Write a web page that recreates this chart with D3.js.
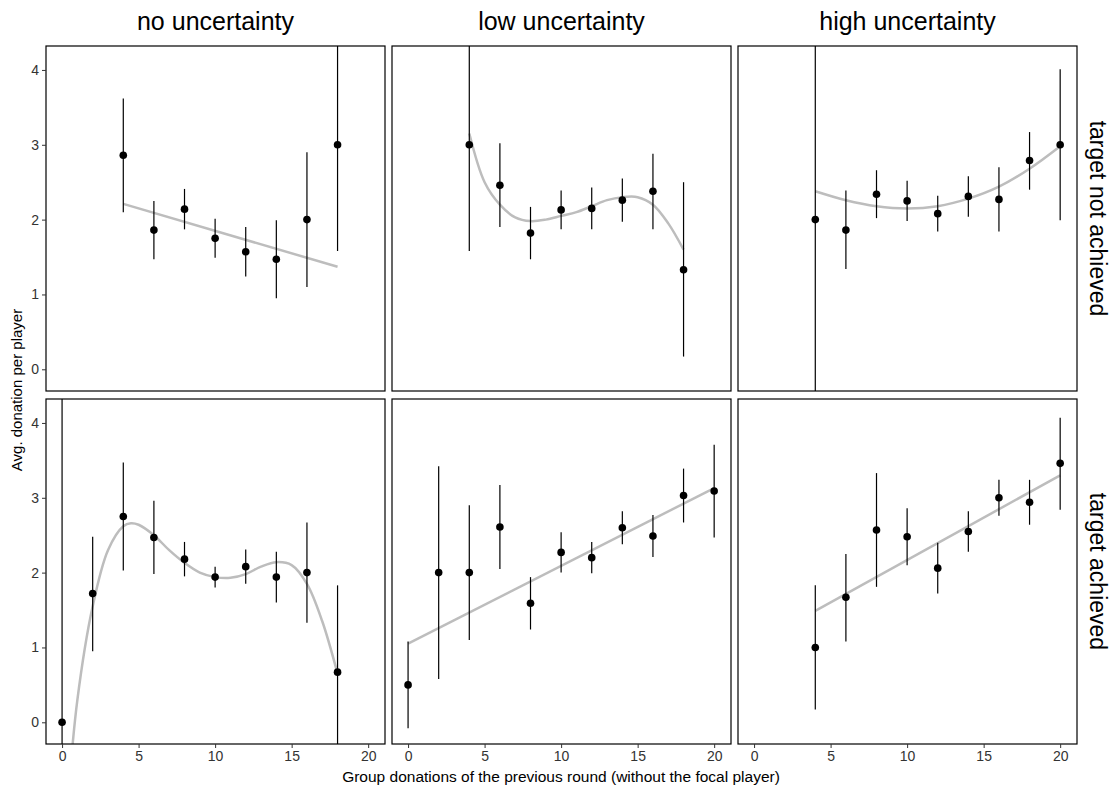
<!DOCTYPE html>
<html><head><meta charset="utf-8">
<script src="https://cdn.jsdelivr.net/npm/d3@7"></script>
<style>body{margin:0;background:#fff}text{font-family:"Liberation Sans",Arial,sans-serif}</style>
</head><body><svg id="c"></svg>
<script>
const columns = ["no uncertainty", "low uncertainty", "high uncertainty"];
const rows = ["target not achieved", "target achieved"];
const xTicks = [0, 5, 10, 15, 20];
const yTicks = [0, 1, 2, 3, 4];

// points: [x, mean, low, high], panels in row order
const points = [
  [[4,2.86,2.1,3.62],[6,1.86,1.47,2.25],[8,2.14,1.87,2.41],[10,1.75,1.49,2.01],[12,1.57,1.24,1.9],[14,1.47,0.95,1.99],[16,2.0,1.1,2.9],[18,3.0,1.58,6]],
  [[4,3.0,1.58,6],[6,2.46,1.9,3.02],[8,1.82,1.47,2.17],[10,2.13,1.87,2.39],[12,2.15,1.87,2.43],[14,2.26,1.97,2.55],[16,2.38,1.87,2.88],[18,1.33,0.17,2.5]],
  [[4,2.0,-2,6],[6,1.86,1.34,2.39],[8,2.34,2.02,2.66],[10,2.25,1.98,2.52],[12,2.08,1.84,2.32],[14,2.31,2.04,2.58],[16,2.27,1.84,2.7],[18,2.79,2.4,3.17],[20,3.0,1.99,4.01]],
  [[0,0,-2,6],[2,1.72,0.95,2.48],[4,2.75,2.03,3.47],[6,2.47,1.98,2.96],[8,2.18,1.95,2.41],[10,1.94,1.8,2.08],[12,2.08,1.85,2.31],[14,1.94,1.6,2.28],[16,2.0,1.33,2.67],[18,0.67,-0.5,1.83]],
  [[0,0.5,-0.08,1.08],[2,2.0,0.58,3.42],[4,2.0,1.1,2.9],[6,2.61,2.05,3.17],[8,1.59,1.24,1.94],[10,2.27,2.0,2.54],[12,2.2,1.99,2.41],[14,2.6,2.38,2.82],[16,2.49,2.21,2.77],[18,3.03,2.67,3.39],[20,3.09,2.47,3.71]],
  [[4,1.0,0.17,1.83],[6,1.67,1.08,2.25],[8,2.57,1.81,3.33],[10,2.48,2.1,2.86],[12,2.06,1.72,2.4],[14,2.55,2.28,2.82],[16,3.0,2.76,3.24],[18,2.94,2.64,3.24],[20,3.46,2.84,4.07]]
];

// fitted curves: [x, y]
const fits = [
  [[4,2.21],[18,1.37]],
  [[4,3.15],[5,2.5],[6,2.2],[7,2.03],[8,1.98],[9,2.0],[10,2.05],[11,2.1],[12,2.18],[13,2.26],[14,2.3],[15,2.3],[16,2.2],[17,1.95],[18,1.6]],
  [[4,2.38],[6,2.26],[8,2.18],[10,2.15],[12,2.18],[14,2.28],[16,2.44],[18,2.68],[20,2.98]],
  [[0.4,-1],[1,0.3],[2,1.55],[3,2.3],[4,2.62],[4.5,2.66],[5,2.64],[6,2.5],[7,2.3],[8,2.13],[9,2.0],[10,1.94],[11,1.93],[12,1.98],[13,2.08],[14,2.14],[15,2.1],[16,1.85],[17,1.35],[18,0.65]],
  [[0,1.05],[20,3.13]],
  [[4,1.49],[20,3.3]]
];

const W = 1117, H = 790;
const svg = d3.select("#c").attr("width", W).attr("height", H);
const colX = [46, 392, 738], pw = 339;
const rowY = [46, 399], ph = 345;

const x = d3.scaleLinear().domain([-1.05, 21.1]).range([0, pw]);
const y = d3.scaleLinear().domain([-0.29, 4.32]).range([ph, 0]);
const line = d3.line().x(d => x(d[0])).y(d => y(d[1])).curve(d3.curveCatmullRom);

svg.append("clipPath").attr("id", "clip").append("rect").attr("width", pw).attr("height", ph);

rows.forEach((r, ri) => {
  columns.forEach((c, ci) => {
    const k = ri * 3 + ci;
    const g = svg.append("g").attr("transform", `translate(${colX[ci]},${rowY[ri]})`);
    const inner = g.append("g").attr("clip-path", "url(#clip)");
    inner.append("path").datum(fits[k]).attr("d", line)
      .attr("fill", "none").attr("stroke", "#bdbdbd").attr("stroke-width", 2.5);
    inner.selectAll("line.e").data(points[k]).enter().append("line")
      .attr("x1", d => x(d[0])).attr("x2", d => x(d[0]))
      .attr("y1", d => y(d[2])).attr("y2", d => y(d[3]))
      .attr("stroke", "#000").attr("stroke-width", 1.2);
    inner.selectAll("circle").data(points[k]).enter().append("circle")
      .attr("cx", d => x(d[0])).attr("cy", d => y(d[1])).attr("r", 3.8).attr("fill", "#000");
    g.append("rect").attr("width", pw).attr("height", ph)
      .attr("fill", "none").attr("stroke", "#000").attr("stroke-width", 1.2);
    if (ci === 0) {
      const ax = g.append("g").call(d3.axisLeft(y).tickValues(yTicks).tickSize(4).tickFormat(d3.format("d")));
      ax.select(".domain").remove();
      ax.selectAll("text").attr("font-size", 14).attr("fill", "#333");
      ax.selectAll("line").attr("stroke", "#333");
    }
    if (ri === 1) {
      const ax = g.append("g").attr("transform", `translate(0,${ph})`)
        .call(d3.axisBottom(x).tickValues(xTicks).tickSize(4));
      ax.select(".domain").remove();
      ax.selectAll("text").attr("font-size", 14).attr("fill", "#333");
      ax.selectAll("line").attr("stroke", "#333");
    }
    if (ri === 0) {
      svg.append("text").attr("x", colX[ci] + pw / 2).attr("y", 30).attr("text-anchor", "middle")
        .attr("font-size", 25).text(c);
    }
  });
  svg.append("text").attr("transform", `translate(1090,${rowY[ri] + ph / 2}) rotate(90)`)
    .attr("text-anchor", "middle").attr("font-size", 23).text(r);
});

svg.append("text").attr("transform", `translate(22,390) rotate(-90)`)
  .attr("text-anchor", "middle").attr("font-size", 15).text("Avg. donation per player");
svg.append("text").attr("x", 561).attr("y", 782).attr("text-anchor", "middle")
  .attr("font-size", 15.5).text("Group donations of the previous round (without the focal player)");
</script></body></html>
